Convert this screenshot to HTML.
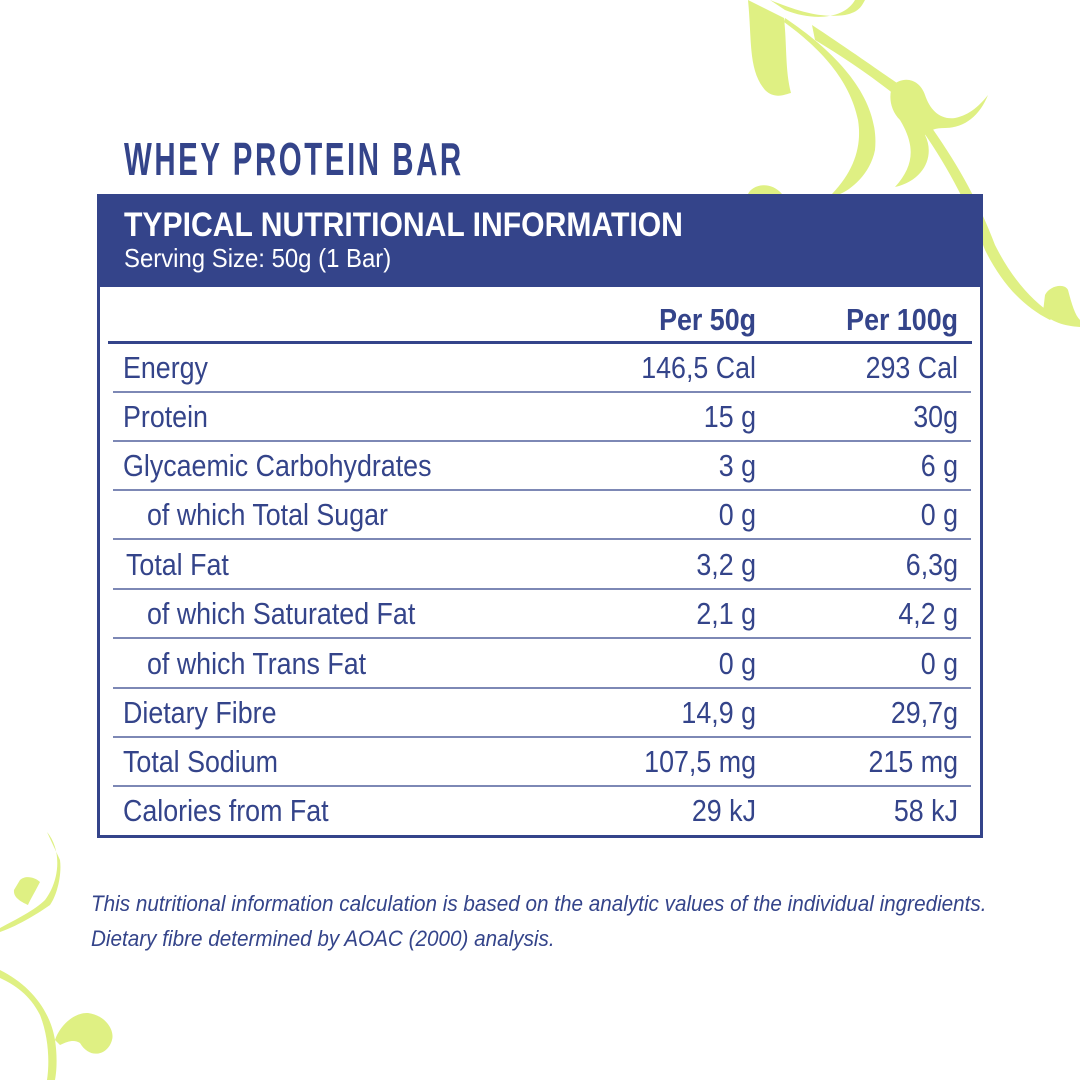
<!DOCTYPE html>
<html><head><meta charset="utf-8"><style>
*{margin:0;padding:0;box-sizing:border-box}
body{width:1080px;height:1080px;background:#fff;position:relative;overflow:hidden;font-family:"Liberation Sans",sans-serif;color:#34448a}
.abs{position:absolute}
.t{position:absolute;font-size:31px;line-height:34px;white-space:nowrap;transform:scaleX(0.865);transform-origin:left center}
.r{text-align:right;transform-origin:right center}
.ln{position:absolute;left:113px;width:858px;height:1.5px;background:#7d88b5}
</style></head><body>
<svg class="abs" style="left:0;top:0" width="1080" height="1080" viewBox="0 0 1080 1080">
<g fill="#dff083" stroke="none">
<path d="M748 0 C752 40 748 70 765 90 C775 100 786 94 791 93 C785 70 787 45 784 18 Z"/>
<path d="M770 0 C800 12 820 18 845 15 C860 12 862 5 865 0 L855 0 C845 18 815 22 785 10 Z"/>
<path d="M785 18 C840 55 880 100 875 150 C870 175 850 190 840 194 L832 194 C855 170 862 145 858 120 C850 80 820 48 784 22 Z"/>
<path d="M812 25 C850 50 885 75 900 85 L895 95 C870 75 840 55 815 40 Z"/>
<path d="M893 85 C905 75 920 80 925 95 C930 110 940 120 955 118 C970 115 980 105 988 95 C980 115 965 128 945 128 C935 128 930 130 925 135 C935 155 925 180 895 187 C915 165 915 145 900 120 C890 110 888 95 893 85 Z"/>
<path d="M922 130 C950 170 970 210 985 250 C1000 280 1020 305 1050 320 L1055 316 C1030 300 1010 275 995 245 C980 205 960 168 932 128 Z"/>
<path d="M1045 295 C1050 285 1065 283 1068 290 C1072 305 1075 315 1080 320 L1080 327 C1065 326 1050 322 1043 312 Z"/>
<path d="M748 194 C752 185 770 180 782 194 Z"/>
<path d="M47 832 C62 850 60 880 45 900 C35 910 15 920 0 928 L0 932 C20 925 40 912 50 905 C57 895 62 875 60 860 Z"/>
<path d="M20 880 C25 875 35 877 40 882 C36 890 30 900 28 905 C22 902 13 898 14 890 Z"/>
<path d="M0 970 C30 985 50 1010 55 1040 C58 1060 56 1075 55 1080 L47 1080 C50 1060 48 1035 40 1015 C30 995 15 985 0 978 Z"/>
<path d="M55 1040 C60 1025 75 1012 88 1013 C105 1015 115 1030 112 1040 C108 1055 90 1060 80 1043 C75 1040 70 1040 60 1045 Z"/>
</g>
</svg>
<div class="abs" style="left:124px;top:134px;font-weight:bold;font-size:46px;line-height:50px;letter-spacing:4px;color:#34448a;white-space:nowrap;transform:scaleX(0.64);transform-origin:left center">WHEY PROTEIN BAR</div>
<div class="abs" style="left:97px;top:194px;width:886px;height:93px;background:#34448a"></div>
<div class="abs" style="left:97px;top:194px;width:886px;height:644px;border:3.5px solid #34448a;border-top:none"></div>
<div class="t" style="left:124px;top:205px;color:#fff;font-weight:bold;font-size:34px;line-height:40px;transform:scaleX(0.886)">TYPICAL NUTRITIONAL INFORMATION</div>
<div class="t" style="left:124px;top:243px;color:#fff;font-size:26px;line-height:30px;transform:scaleX(0.92)">Serving Size: 50g (1 Bar)</div>
<div class="t r" style="left:556px;width:200px;top:303px;font-weight:bold">Per 50g</div>
<div class="t r" style="left:758px;width:200px;top:303px;font-weight:bold">Per 100g</div>
<div class="abs" style="left:108px;top:341px;width:864px;height:3px;background:#34448a"></div>
<div class="ln" style="top:391px"></div>
<div class="ln" style="top:440px"></div>
<div class="ln" style="top:489px"></div>
<div class="ln" style="top:538px"></div>
<div class="ln" style="top:588px"></div>
<div class="ln" style="top:637px"></div>
<div class="ln" style="top:687px"></div>
<div class="ln" style="top:736px"></div>
<div class="ln" style="top:785px"></div>

<div class="t" style="left:123px;top:351px">Energy</div><div class="t r" style="left:556px;width:200px;top:351px">146,5 Cal</div><div class="t r" style="left:758px;width:200px;top:351px">293 Cal</div>
<div class="t" style="left:123px;top:400px">Protein</div><div class="t r" style="left:556px;width:200px;top:400px">15 g</div><div class="t r" style="left:758px;width:200px;top:400px">30g</div>
<div class="t" style="left:123px;top:449px">Glycaemic Carbohydrates</div><div class="t r" style="left:556px;width:200px;top:449px">3 g</div><div class="t r" style="left:758px;width:200px;top:449px">6 g</div>
<div class="t" style="left:147px;top:498px">of which Total Sugar</div><div class="t r" style="left:556px;width:200px;top:498px">0 g</div><div class="t r" style="left:758px;width:200px;top:498px">0 g</div>
<div class="t" style="left:126px;top:548px">Total Fat</div><div class="t r" style="left:556px;width:200px;top:548px">3,2 g</div><div class="t r" style="left:758px;width:200px;top:548px">6,3g</div>
<div class="t" style="left:147px;top:597px">of which Saturated Fat</div><div class="t r" style="left:556px;width:200px;top:597px">2,1 g</div><div class="t r" style="left:758px;width:200px;top:597px">4,2 g</div>
<div class="t" style="left:147px;top:647px">of which Trans Fat</div><div class="t r" style="left:556px;width:200px;top:647px">0 g</div><div class="t r" style="left:758px;width:200px;top:647px">0 g</div>
<div class="t" style="left:123px;top:696px">Dietary Fibre</div><div class="t r" style="left:556px;width:200px;top:696px">14,9 g</div><div class="t r" style="left:758px;width:200px;top:696px">29,7g</div>
<div class="t" style="left:123px;top:745px">Total Sodium</div><div class="t r" style="left:556px;width:200px;top:745px">107,5 mg</div><div class="t r" style="left:758px;width:200px;top:745px">215 mg</div>
<div class="t" style="left:123px;top:794px">Calories from Fat</div><div class="t r" style="left:556px;width:200px;top:794px">29 kJ</div><div class="t r" style="left:758px;width:200px;top:794px">58 kJ</div>

<div class="t" style="left:91px;top:886px;font-size:22px;line-height:35px;font-style:italic;transform:scaleX(0.94)">This nutritional information calculation is based on the analytic values of the individual ingredients.<br>Dietary fibre determined by AOAC (2000) analysis.</div>
</body></html>
